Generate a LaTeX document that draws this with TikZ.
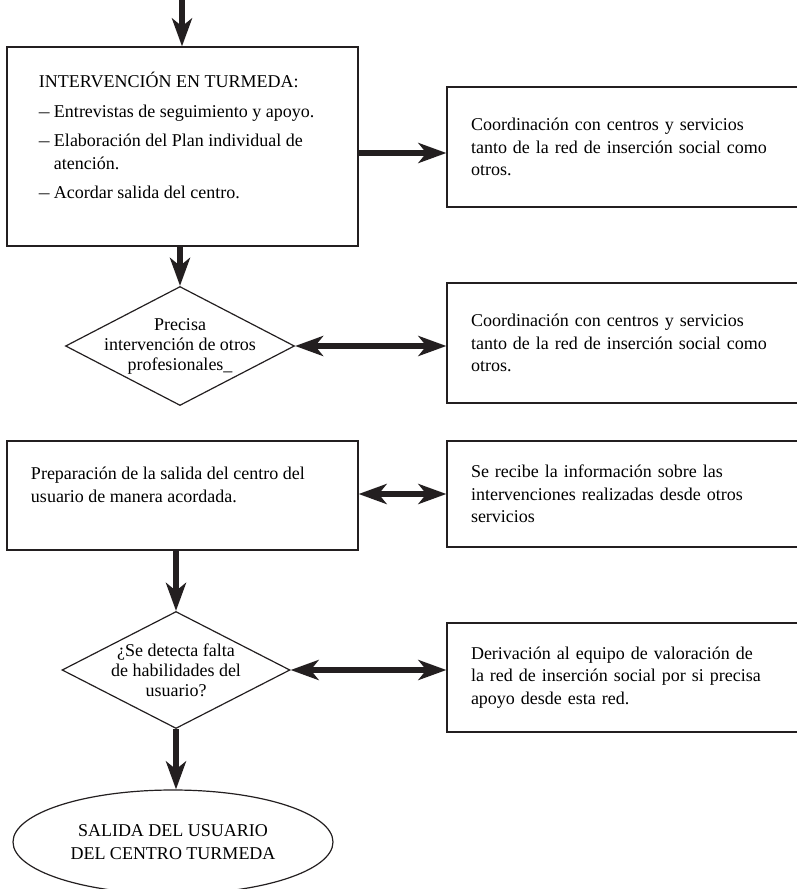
\documentclass[tikz,border=0pt]{standalone}
\usepackage{fontspec}
\setmainfont{Liberation Serif}
\usepackage{graphicx}
\usetikzlibrary{arrows.meta,shapes.geometric}
\definecolor{ink}{RGB}{35,31,32}
\newcommand{\bodyfont}{\fontsize{9pt}{11.25pt}\selectfont}
\newcommand{\guion}{\makebox[7.5pt][l]{\scalebox{0.6}[1]{—}}}

\begin{document}
\begin{tikzpicture}[x=0.5pt,y=-0.5pt,
  >={Stealth[length=14pt,width=10pt,inset=4pt]},
  box/.style={draw=ink,line width=0.6pt,inner ysep=0pt,font=\bodyfont},
  sidebox/.style={box,inner xsep=12pt,text width=176pt,align=left,minimum width=200pt},
  decision/.style={draw=ink,line width=0.6pt,diamond,inner sep=0pt},
  dectext/.style={align=center,font=\fontsize{9pt}{10pt}\selectfont},
  flow/.style={ink,line width=2.6pt,->}]
  \useasboundingbox (0,0) rectangle (797,889);
  \clip (0,0) rectangle (797,889);
  % left column
  \node[box,inner xsep=16pt] (interv) at (182.5,146.5) {\parbox[c][99.5pt][t]{143.5pt}{\bodyfont
    \setlength{\parskip}{3.5pt}\vspace*{9.1pt}\strut INTERVENCIÓN EN TURMEDA:\par
    \hangindent=7.5pt\hangafter=1\noindent\guion Entrevistas de seguimiento y apoyo.\par
    \hangindent=7.5pt\hangafter=1\noindent\guion Elaboración del Plan individual de\\atención.\par
    \hangindent=7.5pt\hangafter=1\noindent\guion Acordar salida del centro.\par}};
  \node[decision,minimum width=114.5pt,minimum height=59.5pt,
    label={[dectext]center:{Precisa\\intervención de otros\\profesionales\_}}] (dec1) at (180,346) {};
  \node[box,inner xsep=12pt] (prep) at (182.5,495.5) {\parbox[c][54.5pt][t]{151.5pt}{\bodyfont
    \vspace*{11.6pt}\strut Preparación de la salida del centro del\\usuario de manera acordada.}};
  \node[decision,minimum width=114pt,minimum height=58.5pt,
    label={[dectext]center:{¿Se detecta falta\\de habilidades del\\usuario?}}] (dec2) at (176,670) {};
  \node[box,ellipse,minimum width=160pt,minimum height=52pt,inner sep=0pt,align=center]
    (salida) at (173,842) {SALIDA DEL USUARIO\\DEL CENTRO TURMEDA};
  % right column
  \node[sidebox,minimum height=60pt] (coord1) at (647,147)
    {Coordinación con centros y servicios\\tanto de la red de inserción social como\\otros.};
  \node[sidebox,minimum height=60pt] (coord2) at (647,343)
    {Coordinación con centros y servicios\\tanto de la red de inserción social como\\otros.};
  \node[sidebox,minimum height=53pt] (info) at (647,494)
    {Se recibe la información sobre las\\intervenciones realizadas desde otros\\servicios};
  \node[sidebox,minimum height=54.5pt] (deriv) at (647,677.5)
    {Derivación al equipo de valoración de\\la red de inserción social por si precisa\\apoyo desde esta red.};
  % connectors
  \coordinate (entry) at (182,-20);
  \draw[flow] (entry) -- (entry |- interv.north);
  \draw[flow] (interv.south -| dec1.north) -- (dec1.north);
  \draw[flow] ([yshift=-3pt]coord1.west -| interv.east) -- ([yshift=-3pt]coord1.west);
  \draw[flow,<->] (dec1.east) -- (dec1.east -| coord2.west);
  \draw[flow,<->] (prep.east |- info.west) -- (info.west);
  \draw[flow] (prep.south -| dec2.north) -- (dec2.north);
  \draw[flow] (dec2.south) -- (dec2.south |- salida.north);
  \draw[flow,<->] (dec2.east) -- (dec2.east -| deriv.west);
\end{tikzpicture}
\end{document}
